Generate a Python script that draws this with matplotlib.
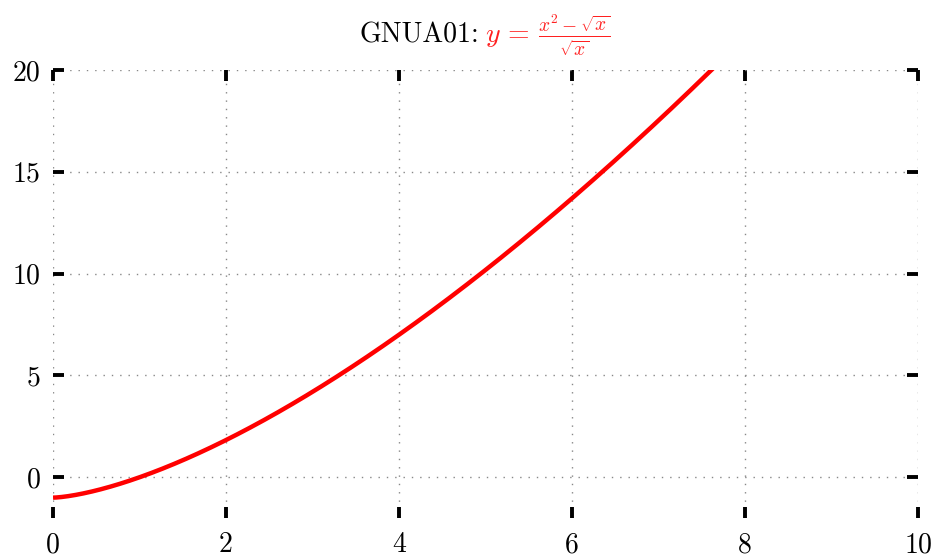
import numpy as np
import matplotlib
matplotlib.use("Agg")
import matplotlib.pyplot as plt

plt.rcParams["font.family"] = "serif"
plt.rcParams["font.serif"] = ["cmr10"]
plt.rcParams["mathtext.fontset"] = "cm"
plt.rcParams["axes.formatter.use_mathtext"] = True

# Domain and limits
x_range = (0.0, 10.0)
y_range = (-2.0, 20.0)
x_ticks = [0, 2, 4, 6, 8, 10]
y_ticks = [0, 5, 10, 15, 20]

# GNUA01: y = (x^2 - sqrt(x)) / sqrt(x)
x = np.linspace(1e-6, 10, 800)
y = (x**2 - np.sqrt(x)) / np.sqrt(x)

fig = plt.figure(figsize=(9.37, 5.6), dpi=100)
ax = fig.add_axes([0.0566, 0.075, 0.9231, 0.80])

ax.plot(x, y, color="#ff0000", lw=3.2, solid_capstyle="butt", zorder=3)

ax.set_xlim(*x_range)
ax.set_ylim(*y_range)
ax.set_xticks(x_ticks)
ax.set_yticks(y_ticks)
ax.set_xticklabels([str(t) for t in x_ticks])
ax.set_yticklabels([str(t) for t in y_ticks])

for s in ax.spines.values():
    s.set_visible(False)

ax.grid(True, color="#888888", linestyle=(0, (1, 5)), linewidth=1.0)
ax.tick_params(direction="in", length=8, width=2.8, color="black",
               top=True, right=True, labelsize=20, pad=9)
ax.tick_params(axis="x", pad=10)

fig.text(0.511, 0.937, "GNUA01:", ha="right", va="center", fontsize=20, color="black")
fig.text(0.5176, 0.937, r"$y\,=\,\frac{x^2-\sqrt{x}}{\sqrt{x}}$", ha="left", va="center",
         fontsize=20, color="#ff2020")

fig.savefig("out.png", dpi=100)
